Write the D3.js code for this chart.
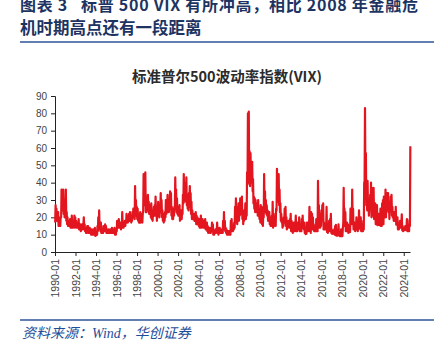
<!DOCTYPE html>
<html><head><meta charset="utf-8">
<script src="https://cdn.jsdelivr.net/npm/d3@7"></script>
<style>
html,body{margin:0;padding:0;background:#fff;}
svg{display:block;}
</style></head>
<body>
<svg id="c" width="440" height="357"></svg>
<script>
// ---- data (monthly low / high of VIX, from 1990-01) ----
const startYear = 1990;
const vixLow = [
 17,20,18,18,15,15,15,20,24,25,22,20, // 1990
 23,18,16,15,15,15,14,14,14,14,15,14, // 1991
 15,14,14,14,13,13,12,13,13,15,13,12, // 1992
 11,11,12,11,11,11,10,10,10,10,11,9.3, // 1993
 9.6,10,12,13,13,12,11,11,11,12,12,12, // 1994
 11,11,11,11,11,11,11,11,11,12,10,10, // 1995
 12,14,14,14,14,13,15,14,14,15,15,17, // 1996
 17,17,18,18,18,17,18,20,20,19,21,21, // 1997
 19,18,17,17,17,19,17,24,28,27,23,23, // 1998
 24,24,22,22,20,19,18,21,21,21,21,18, // 1999
 21,22,20,24,23,20,18,17,18,20,22,25, // 2000
 23,23,26,25,21,19,19,21,25,27,23,22, // 2001
 21,21,18,19,19,22,28,29,31,29,27,25, // 2002
 24,32,26,22,19,19,19,18,18,16,16,16, // 2003
 15,14,14,14,15,14,14,14,13,14,12,11, // 2004
 12,11,11,12,12,10,10,11,11,12,11,10, // 2005
 11,11,11,11,11,13,13,12,11,10,10,10, // 2006
 10,10,13,12,12,13,14,20,17,16,19,18, // 2007
 21,22,25,19,16,18,21,19,21,39,50,40, // 2008
 38,40,40,35,28,25,23,24,23,21,21,19, // 2009
 17,20,16,15,20,24,23,22,21,18,18,16, // 2010
 15,15,16,14,15,16,15,24,31,29,27,23, // 2011
 18,17,14,15,17,17,15,13,14,15,14,15, // 2012
 12,12,11,12,12,15,12,12,13,13,12,12, // 2013
 12,14,14,13,11,10.3,10.6,12,12,14,12,11, // 2014
 16,13,13,12,12,12,12,12,20,14,14,15, // 2015
 18,20,13,13,13,14,11.5,11,12,13,12,11, // 2016
 10.5,10.6,11,10,9.8,9.4,9.4,10,9.5,9.2,9.1,9.1, // 2017
 9.2,17,15,15,12,12,12,11,11.5,11.6,16,16, // 2018
 16,13,13,12,13,14,12,16,14,13,12,12, // 2019
 12,13,41,31,27,24,24,21,25,26,20,21, // 2020
 21,19,19,16,16,15.5,16,15.5,16,15,15,17, // 2021
 16,20,20,20,25,24,23,19,24,29,21,20, // 2022
 18,18,18,15.8,16,13,13,15,14,16,12.5,12, // 2023
 12.5,12.6,12.8,14,12,12,12,15 // 2024
];
const vixHigh = [
 27,25,22,23,20,18,20,36,30,36,28,25, // 1990
 36,23,20,18,17,19,17,21,17,17,21,20, // 1991
 18,17,17,19,15,16,15,16,16,20,16,14, // 1992
 14,15,15,14,14,13,13,12,13,12,14,11, // 1993
 11,15,20,24,16,17,13,13,15,15,16,15, // 1994
 13,12,13,12,13,13,14,13,13,14,12,13, // 1995
 18,17,19,17,17,16,23,17,17,18,18,22, // 1996
 21,20,22,23,21,20,23,25,24,38,30,26, // 1997
 25,21,20,23,21,22,22,45,42,46,29,28, // 1998
 33,29,27,26,28,24,22,26,27,32,25,22, // 1999
 29,26,27,34,30,24,22,21,23,30,30,33, // 2000
 30,28,35,34,26,23,25,26,43,36,31,26, // 2001
 25,27,22,24,23,33,45,40,40,43,33,31, // 2002
 34,38,34,29,24,22,22,21,23,21,20,19, // 2003
 19,17,21,17,19,16,18,19,15,17,15,14, // 2004
 14,12,14,17,16,12,12,13,13,17,14,12, // 2005
 14,13,12,13,18,23,18,14,13,12,12,12, // 2006
 12,18,19,15,14,17,26,31,26,23,28,24, // 2007
 31,28,32,24,20,24,28,22,46,80,81,58, // 2008
 57,47,52,42,32,31,30,28,26,30,25,22, // 2009
 27,26,19,22,45,35,30,27,24,23,23,18, // 2010
 20,21,29,18,18,22,25,48,43,45,36,28, // 2011
 22,19,18,20,25,26,20,18,17,18,19,22, // 2012
 18,17,15,17,16,21,16,17,17,20,13,16, // 2013
 19,21,17,17,13,12,17,17,17,26,14,23, // 2014
 22,20,16,15,14,19,17,41,27,22,20,24, // 2015
 27,28,17,16,16,26,14,13,18,19,22,13, // 2016
 12.5,12,13,15,15.6,11.5,11,16,11.5,11,13,11, // 2017
 13.5,37,25,23,15,17,16,15,14,25,22,36, // 2018
 25,16,17,14,20,18,14,24,18,20,13,16, // 2019
 18,40,83,57,35,41,30,26,33,40,37,25, // 2020
 37,28,28,18.5,27,20,22,21,25,21,28,30, // 2021
 32,31,36,33,34,34,28,25,32,33,26,23, // 2022
 23,23,26,19,20,15,14,18,18,21.7,15,13, // 2023
 14,15,14.5,19,14,13,18.5,61 // 2024
];
const yTicks = [0,10,20,30,40,50,60,70,80,90];
const xTickYears = d3.range(1990, 2025, 2);
const titleLine1 = "图表 3   标普 500 VIX 有所冲高，相比 2008 年金融危";
const titleLine2 = "机时期高点还有一段距离";
const chartTitle = "标准普尔500波动率指数(VIX)";
const sourceText = "资料来源：Wind，华创证券";

// ---- build series ----
const pts = [];
vixLow.forEach((lo, i) => {
  pts.push({d: new Date(startYear, i, 8), v: lo});
  pts.push({d: new Date(startYear, i, 22), v: vixHigh[i]});
});

const svg = d3.select("#c");
const x = d3.scaleTime().domain([new Date(1990,0,1), new Date(2024,7,10)]).range([55, 410]);
const y = d3.scaleLinear().domain([0, 90]).range([252, 96]);

// header
svg.append("text").attr("x", 20).attr("y", 11)
  .attr("font-family", "'Noto Sans CJK SC', sans-serif").attr("font-weight", "bold")
  .attr("font-size", 16).attr("fill", "#1d3462")
  .attr("textLength", 398).attr("lengthAdjust", "spacing")
  .attr("xml:space", "preserve").style("white-space", "pre")
  .text(titleLine1);
svg.append("text").attr("x", 20).attr("y", 34)
  .attr("font-family", "'Noto Sans CJK SC', sans-serif").attr("font-weight", "bold")
  .attr("font-size", 16.5).attr("fill", "#1d3462")
  .text(titleLine2);
svg.append("line").attr("x1", 20).attr("x2", 434).attr("y1", 42).attr("y2", 42)
  .attr("stroke", "#2f5597").attr("stroke-width", 1.6);

// chart title
svg.append("text").attr("x", 227).attr("y", 82).attr("text-anchor", "middle")
  .attr("font-family", "'Noto Sans CJK SC', sans-serif").attr("font-weight", "bold")
  .attr("font-size", 14.5).attr("fill", "#2b2b2b")
  .text(chartTitle);

// axes
const yAxis = svg.append("g").attr("transform", "translate(55,0)")
  .call(d3.axisLeft(y).tickValues(yTicks).tickSize(4).tickPadding(4));
yAxis.select(".domain").attr("stroke", "#222");
yAxis.selectAll(".tick line").attr("stroke", "#222");
yAxis.selectAll("text").attr("font-family", "'Liberation Sans', Arial, sans-serif")
  .attr("font-size", 10).attr("fill", "#444");

const xAxis = svg.append("g").attr("transform", "translate(0,252)")
  .call(d3.axisBottom(x).tickValues(xTickYears.map(yr => new Date(yr,0,1)))
    .tickFormat(d3.timeFormat("%Y-%m")).tickSize(4).tickSizeOuter(0));
xAxis.select(".domain").attr("stroke", "#222");
xAxis.selectAll(".tick line").attr("stroke", "#222");
xAxis.selectAll("text")
  .attr("font-family", "'Liberation Sans', Arial, sans-serif")
  .attr("font-size", 10.5).attr("fill", "#444")
  .attr("text-anchor", "end").attr("dy", "0.35em")
  .attr("transform", "translate(0,7) rotate(-90)")
  .attr("x", 0).attr("y", 0);

// line
svg.append("path").datum(pts)
  .attr("d", d3.line().x(p => x(p.d)).y(p => y(p.v)))
  .attr("fill", "none").attr("stroke", "#e3151f").attr("stroke-width", 2.2)
  .attr("stroke-linejoin", "round");

// footer
svg.append("line").attr("x1", 20).attr("x2", 434).attr("y1", 320).attr("y2", 320)
  .attr("stroke", "#2f5597").attr("stroke-width", 1.6);
svg.append("text").attr("x", 22).attr("y", 338)
  .attr("font-family", "'Liberation Serif', 'Noto Sans CJK SC', serif")
  .attr("font-style", "italic").attr("font-size", 14).attr("fill", "#1f4e99")
  .text(sourceText);
</script>
</body></html>
